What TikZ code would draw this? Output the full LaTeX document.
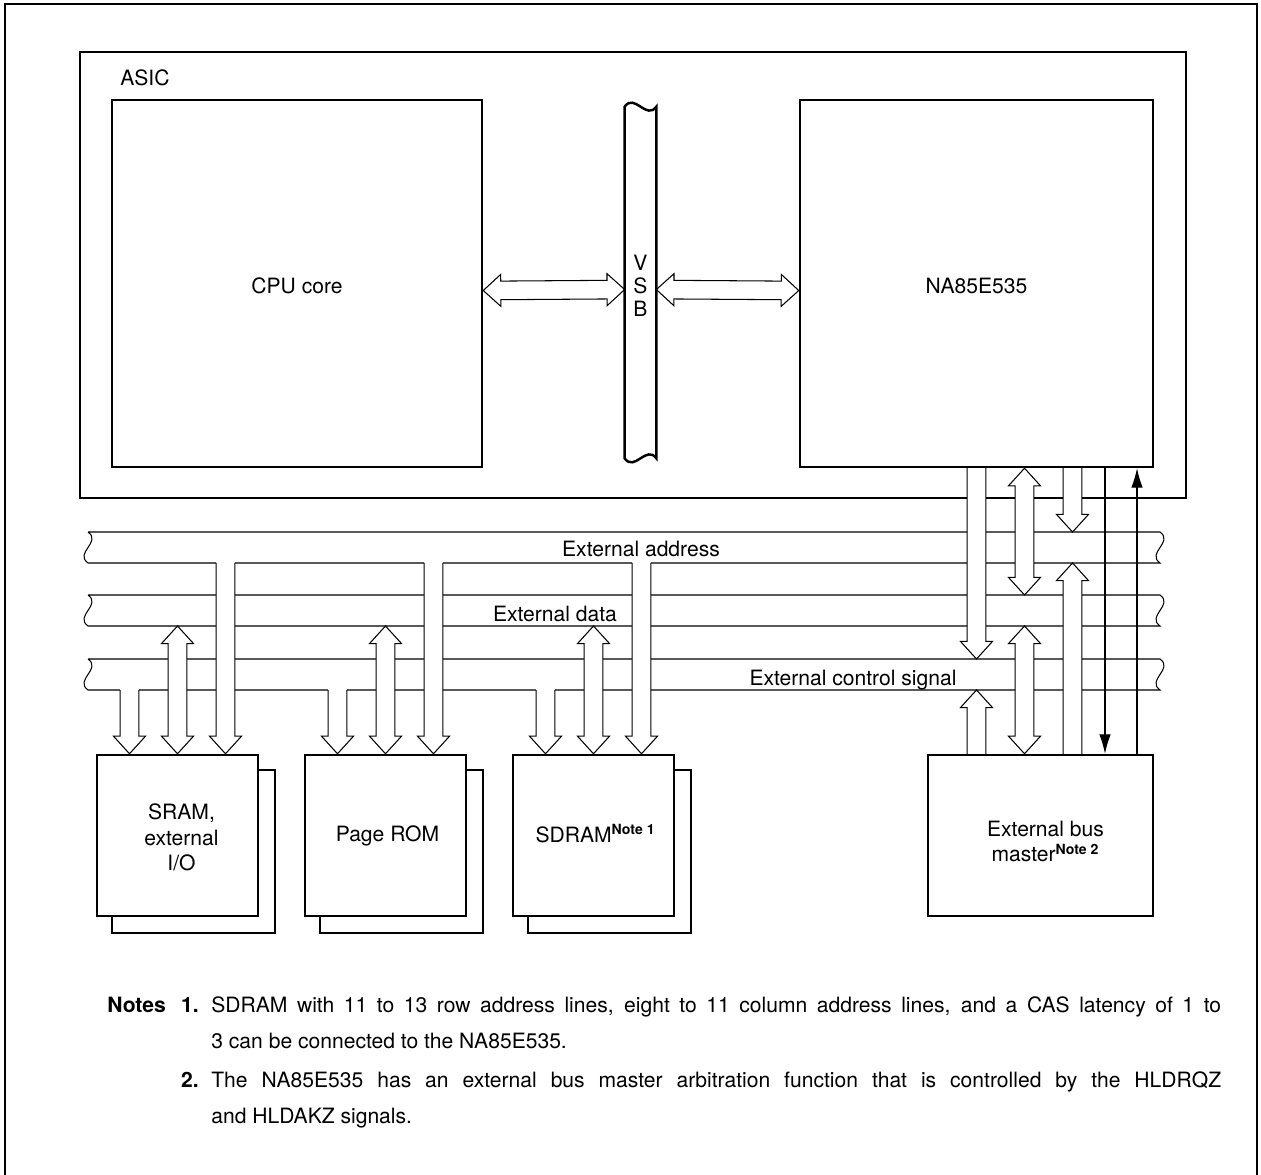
\documentclass[tikz,border=0pt]{standalone}
\usepackage{fontspec}
\setmainfont{TeX Gyre Heros}
\usetikzlibrary{arrows.meta,calc,fit}
\pgfdeclarelayer{back}
\pgfdeclarelayer{mid}
\pgfsetlayers{back,mid,main}
\newcommand\fatw{5.3pt}
\newcommand\fath{9.1pt}
\newcommand\fatlen{10pt}
\newcommand\fatarrow[2]{%
  \coordinate (fa0) at (#1);
  \coordinate (fa1) at (#2);
  \coordinate (fab) at ($(fa0)!-0.6pt!(fa1)$);
  \coordinate (fah) at ($(fa1)!\fatlen!(fa0)$);
  \fill[white] ($(fab)!\fatw!90:(fa1)$) -- ($(fah)!\fatw!90:(fa1)$) -- ($(fah)!\fath!90:(fa1)$) -- (fa1) -- ($(fah)!\fath!-90:(fa1)$) -- ($(fah)!\fatw!-90:(fa1)$) -- ($(fab)!\fatw!-90:(fa1)$) -- cycle;
  \draw[fat] ($(fa0)!\fatw!90:(fa1)$) -- ($(fah)!\fatw!90:(fa1)$) -- ($(fah)!\fath!90:(fa1)$) -- (fa1) -- ($(fah)!\fath!-90:(fa1)$) -- ($(fah)!\fatw!-90:(fa1)$) -- ($(fa0)!\fatw!-90:(fa1)$);
}
\newcommand\fatboth[2]{%
  \coordinate (fa0) at (#1);
  \coordinate (fa1) at (#2);
  \coordinate (fag) at ($(fa0)!\fatlen!(fa1)$);
  \coordinate (fah) at ($(fa1)!\fatlen!(fa0)$);
  \draw[fat, fill=white] (fa0) -- ($(fag)!\fath!90:(fa1)$) -- ($(fag)!\fatw!90:(fa1)$) -- ($(fah)!\fatw!90:(fa1)$) -- ($(fah)!\fath!90:(fa1)$) -- (fa1) -- ($(fah)!\fath!-90:(fa1)$) -- ($(fah)!\fatw!-90:(fa1)$) -- ($(fag)!\fatw!-90:(fa1)$) -- ($(fag)!\fath!-90:(fa1)$) -- cycle;
}
\tikzset{
  box/.style={draw, line width=1.4pt, fill=white},
  bus/.style={line width=0.6pt},
  fat/.style={line width=0.6pt, line join=miter},
  sig/.style={line width=0.6pt, -{Latex[length=11pt, width=6.5pt]}},
}

\begin{document}
\begin{tikzpicture}[x=0.02cm, y=-0.02cm, inner sep=0pt, font=\fontsize{12}{14.7}\selectfont]
    \useasboundingbox (0,0) rectangle (1261,1175);
    \draw[bus] (5,1175) -- (5,4) -- (1257,4) -- (1257,1175);
    \begin{pgfonlayer}{back}
      \node[box, fill=none, fit={(80,52) (1186,498)}] (asic) {};
      \foreach \y/\n in {532/adr, 595/dat, 659/ctl} {
        \coordinate (\n1) at (0,\y);
        \coordinate (\n2) at (0,\y+31);
        \draw[bus] (88,\y) -- (1160,\y) .. controls +(14,10) and +(-14,-10) .. (1160,\y+31) -- (88,\y+31) .. controls +(-14,-10) and +(14,10) .. (88,\y);
      }
    \end{pgfonlayer}
    \node[anchor=west] (asiclab) at (120,78) {ASIC};
    \node[box, fit={(112,100) (482,467)}] (cpu) {};
    \node[box, fit={(800,100) (1153,467)}] (na) {};
    \node[fit={(625,107) (656,458)}] (vsb) {};
    \draw[line width=1.4pt] (vsb.north west) .. controls +(10,-14) and +(-10,14) .. (vsb.north east) -- (vsb.south east) .. controls +(-10,-14) and +(10,14) .. (vsb.south west) -- cycle;
    \node[box, fit={(97,755) (258,916)}] (sram) {};
    \node[box, fit={(305,755) (466,916)}] (rom) {};
    \node[box, fit={(513,755) (674,916)}] (sdram) {};
    \node[box, fit={(928,755) (1153,916)}] (ebm) {};
    \node (cpulab) at ($(cpu.center)+(0,2)$) {CPU core};
    \node (nalab) at ($(na.center)+(0,2)$) {NA85E535};
    \node[align=center, font=\fontsize{12}{13}\selectfont] (vsblab) at ($(vsb.center)+(0,3)$) {V\\S\\B};
    \node[align=center] (sramlab) at ($(sram.center)+(4,2)$) {SRAM,\\external\\I/O};
    \node (romlab) at ($(rom.center)+(2,0)$) {Page ROM};
    \node (sdramlab) at ($(sdram.center)+(2,-2)$) {SDRAM\textsuperscript{\textbf{Note 1}}};
    \node[align=center] (ebmlab) at ($(ebm.center)+(5,6)$) {External bus\\master\textsuperscript{\textbf{Note 2}}};
    \node[anchor=base] (adrlab) at (641,557) {External address};
    \node[anchor=base] (datlab) at (555,622) {External data};
    \node[anchor=base] (ctllab) at (853,685) {External control signal};
    \foreach \m in {sram,rom,sdram} {
      \coordinate (\m-c) at ($(\m.north)+(-48,0)$);
      \coordinate (\m-d) at (\m.north);
      \coordinate (\m-a) at ($(\m.north)+(48,0)$);
    }
    \foreach \i/\dx in {0/0, 1/48, 2/96, 3/128.5, 4/160.5}
      \coordinate (na\i) at ($(na.south)+(\dx,0)$);
    \begin{pgfonlayer}{mid}
      \foreach \m in {sram,rom,sdram}
        \draw[line width=1.4pt] ($(\m.north west)+(16,16)$) rectangle ($(\m.south east)+(16,16)$);
      \fatboth{[yshift=-4pt]cpu.east}{[yshift=-4pt]vsb.west}
      \fatboth{[yshift=-4pt]vsb.east}{[yshift=-4pt]na.west}
      \foreach \m in {sram,rom,sdram} {
        \fatarrow{\m-c |- ctl2}{\m-c}
        \fatboth{\m-d |- dat2}{\m-d}
        \fatarrow{\m-a |- adr2}{\m-a}
      }
      \fatarrow{na0}{na0 |- ctl1}
      \fatboth{na1}{na1 |- dat1}
      \fatarrow{na2}{na2 |- adr1}
      \fatarrow{na2 |- ebm.north}{na2 |- adr2}
      \fatboth{na1 |- dat2}{na1 |- ebm.north}
      \fatarrow{na0 |- ebm.north}{na0 |- ctl2}
    \end{pgfonlayer}
    \draw[sig] (na3) -- (na3 |- ebm.north);
    \draw[sig] (na4 |- ebm.north) -- (na4);
    \begin{scope}[font=\fontsize{12}{14}\selectfont]
      \node[anchor=base west] (notes) at (107,1012) {\textbf{Notes}};
      \node[anchor=base east] (n1) at (199,1012) {\textbf{1.}};
      \node[anchor=base west] (t1a) at (211,1012) {\makebox[20.2cm][s]{SDRAM with 11 to 13 row address lines, eight to 11 column address lines, and a CAS latency of 1 to}};
      \node[anchor=base west] (t1b) at (211,1048) {3 can be connected to the NA85E535.};
      \node[anchor=base east] (n2) at (199,1087) {\textbf{2.}};
      \node[anchor=base west] (t2a) at (211,1087) {\makebox[20.2cm][s]{The NA85E535 has an external bus master arbitration function that is controlled by the HLDRQZ}};
      \node[anchor=base west] (t2b) at (211,1123) {and HLDAKZ signals.};
    \end{scope}
\end{tikzpicture}
\end{document}
